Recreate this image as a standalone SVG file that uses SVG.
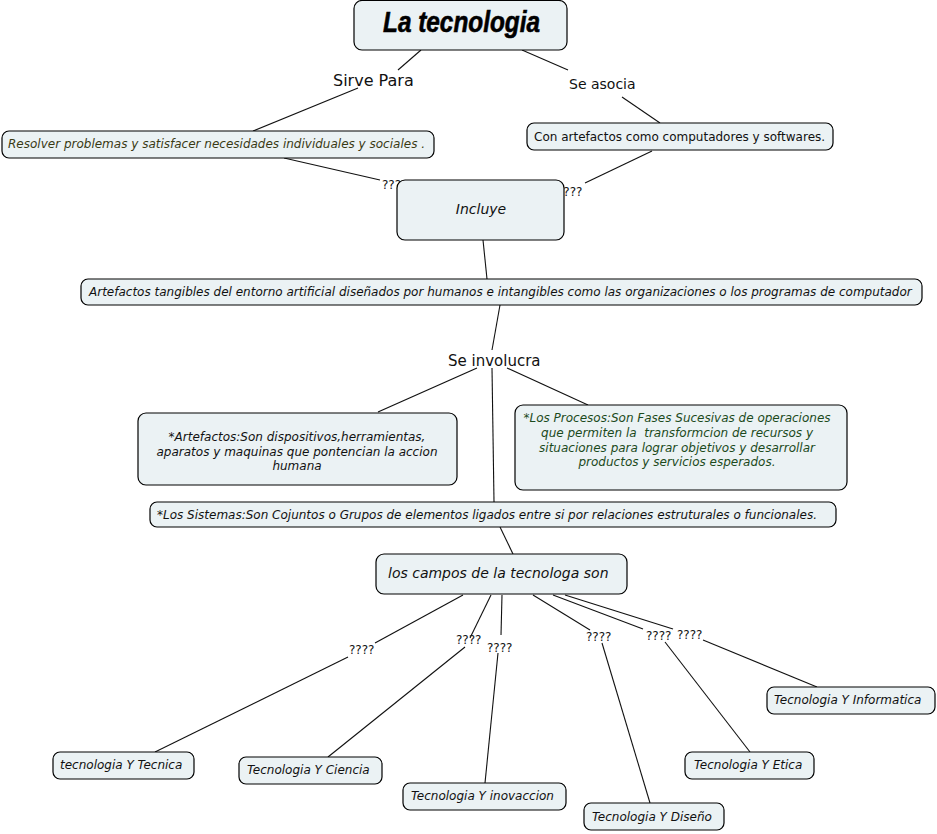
<svg xmlns="http://www.w3.org/2000/svg" width="937" height="834" viewBox="0 0 937 834">
<style>
.box{fill:#ebf2f4;stroke:#000;stroke-width:1.2}
.t{font-family:"DejaVu Sans",Verdana,sans-serif;font-size:12px;fill:#111}
.i{font-style:italic}
.lab{font-family:"DejaVu Sans",Verdana,sans-serif;fill:#111}
.q{font-family:"DejaVu Sans",Verdana,sans-serif;font-size:12px;fill:#111}
#connectors line{stroke:#111;stroke-width:1.1}
</style>
<rect width="937" height="834" fill="#fff"/>
<g id="connectors">
<line x1="421" y1="50" x2="398" y2="70"/>
<line x1="358" y1="88" x2="253" y2="131"/>
<line x1="522" y1="50" x2="568" y2="70"/>
<line x1="622" y1="97" x2="660" y2="123"/>
<line x1="284" y1="158" x2="380" y2="180"/>
<line x1="652" y1="151" x2="585" y2="183"/>
<line x1="483" y1="240" x2="487" y2="279"/>
<line x1="500" y1="305" x2="492" y2="350"/>
<line x1="477" y1="368" x2="378" y2="412"/>
<line x1="507" y1="368" x2="588" y2="405"/>
<line x1="492" y1="368" x2="494" y2="502"/>
<line x1="500" y1="527" x2="513" y2="554"/>
<line x1="463" y1="595" x2="375" y2="643"/>
<line x1="348" y1="657" x2="155" y2="752"/>
<line x1="491" y1="595" x2="470" y2="638"/>
<line x1="465" y1="647" x2="328" y2="757"/>
<line x1="502" y1="595" x2="501" y2="635"/>
<line x1="498" y1="653" x2="485" y2="783"/>
<line x1="533" y1="595" x2="590" y2="630"/>
<line x1="602" y1="643" x2="650" y2="803"/>
<line x1="553" y1="595" x2="643" y2="629"/>
<line x1="665" y1="642" x2="750" y2="752"/>
<line x1="565" y1="595" x2="673" y2="629"/>
<line x1="703" y1="640" x2="817" y2="687"/>
</g>
<g id="linking-labels">
<text class="lab" x="333" y="86" font-size="16">Sirve Para</text>
<text class="lab" x="569" y="89" font-size="14">Se asocia</text>
<text class="q" x="382" y="189">????</text>
<text class="q" x="557" y="196">????</text>
<text class="lab" x="448" y="366" font-size="15">Se involucra</text>
<text class="q" x="349" y="654">????</text>
<text class="q" x="456" y="644">????</text>
<text class="q" x="487" y="652">????</text>
<text class="q" x="586" y="641">????</text>
<text class="q" x="646" y="640">????</text>
<text class="q" x="677" y="639">????</text>
</g>
<g id="n-title">
<rect class="box" x="354" y="0.5" width="213" height="49.5" rx="8"/>
<text x="383" y="32" textLength="157" lengthAdjust="spacingAndGlyphs" font-family="'Liberation Sans Narrow','Liberation Sans',sans-serif" font-weight="bold" font-style="italic" font-size="29" fill="#000" stroke="#000" stroke-width="0.6">La tecnologia</text>
</g>
<g id="n-resolver">
<rect class="box" x="2" y="131" width="432" height="27" rx="7"/>
<text class="t i" x="8" y="148" style="fill:#3a3a14">Resolver problemas y satisfacer necesidades individuales y sociales .</text>
</g>
<g id="n-artefactos-comp">
<rect class="box" x="527" y="123" width="306" height="27" rx="7"/>
<text class="t" x="534" y="141">Con artefactos como computadores y softwares.</text>
</g>
<g id="n-incluye">
<rect class="box" x="397" y="180" width="167" height="60" rx="8"/>
<text class="t i" x="481" y="214" text-anchor="middle" style="font-size:14px">Incluye</text>
</g>
<g id="n-tangibles">
<rect class="box" x="81" y="279" width="841" height="26" rx="7"/>
<text class="t i" x="89" y="296">Artefactos tangibles del entorno artificial diseñados por humanos e intangibles como las organizaciones o los programas de computador</text>
</g>
<g id="n-artefactos">
<rect class="box" x="138" y="413" width="319" height="72" rx="8"/>
<text class="t i" text-anchor="middle" x="297" y="441">*Artefactos:Son dispositivos,herramientas,</text>
<text class="t i" text-anchor="middle" x="297" y="456">aparatos y maquinas que pontencian la accion</text>
<text class="t i" text-anchor="middle" x="297" y="470">humana</text>
</g>
<g id="n-procesos">
<rect class="box" x="515" y="405" width="332" height="85" rx="8"/>
<g class="t i" style="fill:#1c4a1c" text-anchor="middle">
<text x="677" y="422">*Los Procesos:Son Fases Sucesivas de operaciones</text>
<text x="677" y="437" style="white-space:pre">que permiten la  transformcion de recursos y</text>
<text x="677" y="452">situaciones para lograr objetivos y desarrollar</text>
<text x="677" y="466">productos y servicios esperados.</text>
</g>
</g>
<g id="n-sistemas">
<rect class="box" x="150" y="502" width="686" height="25" rx="7"/>
<text class="t i" x="157" y="519">*Los Sistemas:Son Cojuntos o Grupos de elementos ligados entre si por relaciones estruturales o funcionales.</text>
</g>
<g id="n-campos">
<rect class="box" x="376" y="554" width="251" height="40" rx="8"/>
<text class="t i" x="388" y="578" style="font-size:14px">los campos de la tecnologa son</text>
</g>
<g id="n-tecnica">
<rect class="box" x="53" y="752" width="141" height="27" rx="7"/>
<text class="t i" x="60" y="769">tecnologia Y Tecnica</text>
</g>
<g id="n-ciencia">
<rect class="box" x="239" y="757" width="143" height="27" rx="7"/>
<text class="t i" x="247" y="774">Tecnologia Y Ciencia</text>
</g>
<g id="n-inovaccion">
<rect class="box" x="403" y="783" width="163" height="27" rx="7"/>
<text class="t i" x="411" y="800">Tecnologia Y inovaccion</text>
</g>
<g id="n-diseno">
<rect class="box" x="584" y="803" width="140" height="27" rx="7"/>
<text class="t i" x="592" y="821">Tecnologia Y Diseño</text>
</g>
<g id="n-etica">
<rect class="box" x="685" y="752" width="129" height="27" rx="7"/>
<text class="t i" x="694" y="769">Tecnologia Y Etica</text>
</g>
<g id="n-informatica">
<rect class="box" x="767" y="687" width="168" height="27" rx="7"/>
<text class="t i" x="774" y="704">Tecnologia Y Informatica</text>
</g>
</svg>
